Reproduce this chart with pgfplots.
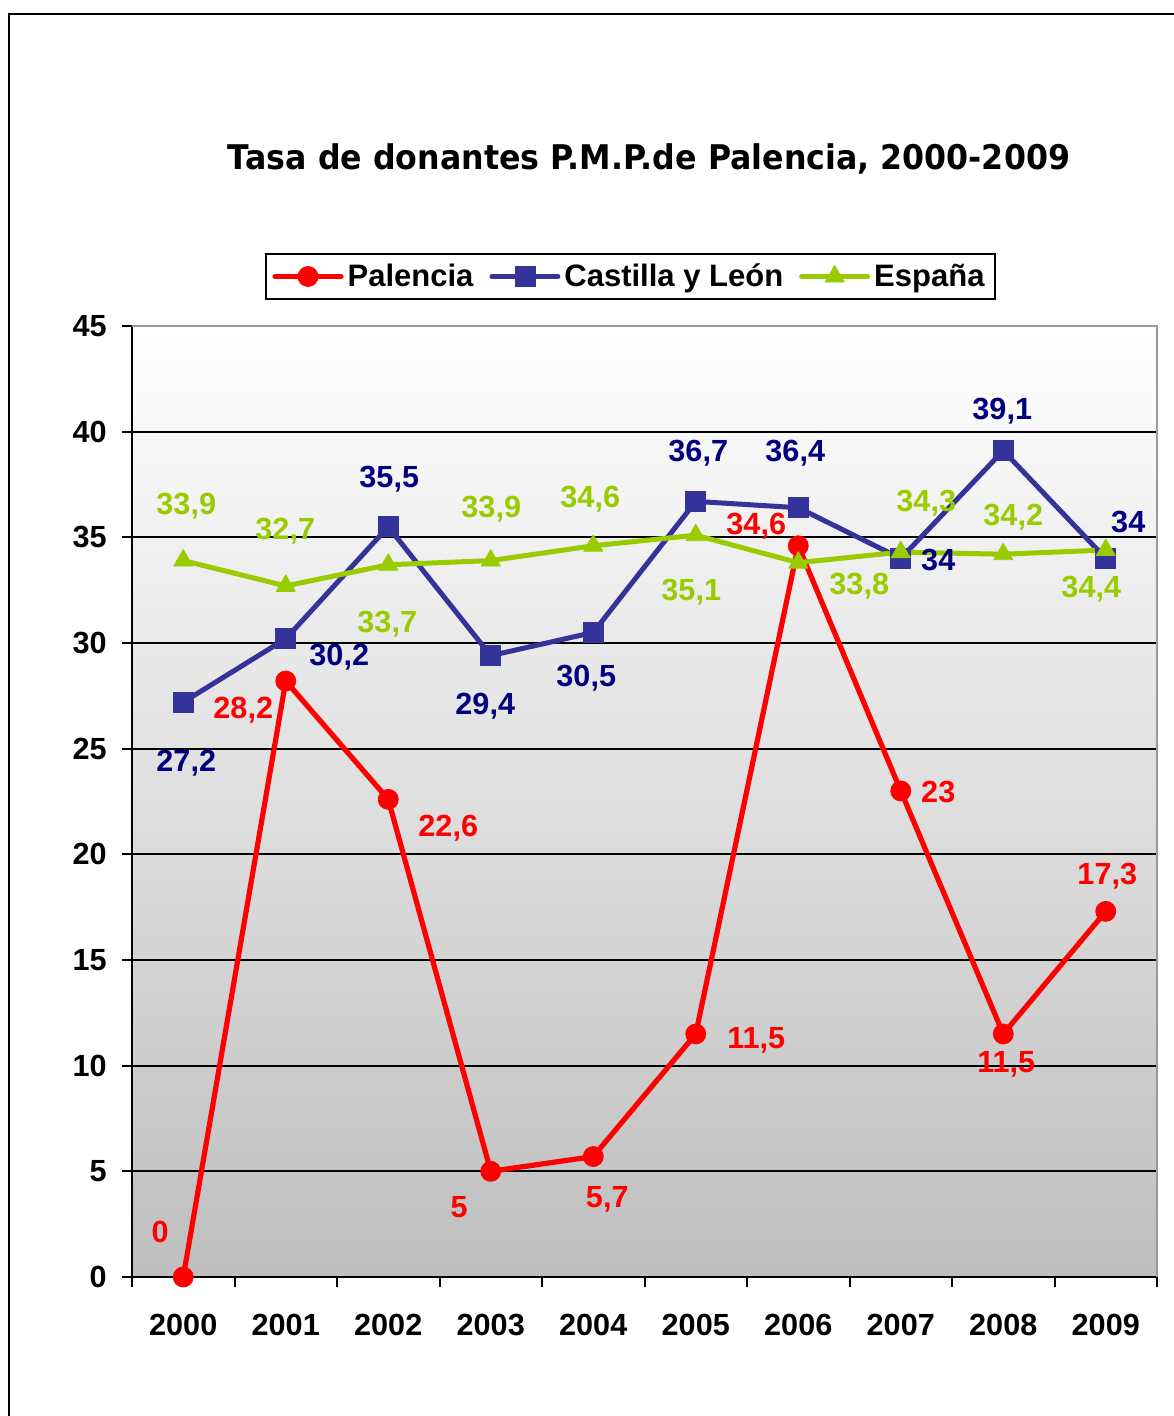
\documentclass[border=0pt]{standalone}
\usepackage{pgfplots}
\pgfplotsset{compat=1.18}
\usepackage{pgfplotstable}
\usepackage{graphicx}
\usepackage{fontspec}
\setmainfont{Liberation Sans}
\newfontfamily\titlefont{DejaVu Sans}

\definecolor{cpal}{HTML}{FF0000}
\definecolor{ccyl}{HTML}{333399}
\definecolor{ccyllbl}{HTML}{000080}
\definecolor{cesp}{HTML}{99CC00}
\definecolor{bgbot}{HTML}{BEBEBE}
\definecolor{bordergray}{HTML}{9A9A9A}

% x y label dx(pt) dy(pt)
\pgfplotstableread{
x y lbl dx dy
0 0 0 -11.5 22.5
1 28.2 28,2 -21.25 -14.5
2 22.6 22,6 30 -14.3
3 5 5 -15.75 -17.85
4 5.7 5,7 7 -21.25
5 11.5 11,5 30.25 -3
6 34.6 34,6 -21 9.9
7 23 23 18.75 -0.5
8 11.5 11,5 1.5 -15
9 17.3 17,3 0.75 17.7
}\datapal

\pgfplotstableread{
x y lbl dx dy
0 27.2 27,2 1.5 -30.4
1 30.2 30,2 26.75 -9.1
2 35.5 35,5 0.5 23.9
3 29.4 29,4 -2.75 -25.15
4 30.5 30,5 -3.5 -22.8
5 36.7 36,7 1.25 24.2
6 36.4 36,4 -1.5 27.4
7 34 34 18.75 -0.75
8 39.1 39,1 -0.5 19.85
9 34 34 11.25 18.25
}\datacyl

\pgfplotstableread{
x y lbl dx dy
0 33.9 33,9 1.5 27.3
1 32.7 32,7 -0.25 27.5
2 33.7 33,7 -0.5 -29.6
3 33.9 33,9 0.25 25.8
4 34.6 34,6 -1.5 23.4
5 35.1 35,1 -2.25 -28.4
6 33.8 33,8 30.5 -11.65
7 34.3 34,3 12.75 24.55
8 34.2 34,2 5 18.65
9 34.4 34,4 -7.25 -19.5
}\dataesp

\newcommand{\lblfont}{\bfseries\fontsize{15.3}{18}\selectfont}

\pgfplotsset{
  lblstyle/.style={
    point meta=explicit symbolic,
    nodes near coords,
    visualization depends on={\thisrow{dx} \as \lblx},
    visualization depends on={\thisrow{dy} \as \lbly},
    every node near coord/.append style={anchor=center, inner sep=0pt,
      xshift=\lblx pt, yshift=\lbly pt, font=\lblfont},
  },
}

\begin{document}
\begin{tikzpicture}
\draw[black, line width=1pt] (4.5pt,-20pt) -- (4.5pt,701pt) -- (620pt,701pt);
\node[anchor=base, inner sep=0pt] at (324.5pt,623pt)
  {\resizebox{421pt}{\height}{\titlefont\bfseries\fontsize{17}{20}\selectfont Tasa de donantes P.M.P.de Palencia, 2000-2009}};
\begin{axis}[
  at={(66pt,69.5pt)}, anchor=south west,
  scale only axis, width=512.5pt, height=475.5pt,
  clip=false,
  xmin=-0.5, xmax=9.5, ymin=0, ymax=45,
  xtick={0,1,2,3,4,5,6,7,8,9},
  xticklabels={2000,2001,2002,2003,2004,2005,2006,2007,2008,2009},
  minor xtick={-0.5,0.5,1.5,2.5,3.5,4.5,5.5,6.5,7.5,8.5,9.5},
  ytick={0,5,10,15,20,25,30,35,40,45},
  axis x line*=bottom, axis y line*=left,
  axis line style={-, black, line width=1pt},
  tick align=outside,
  major tick length=5pt, minor tick length=5pt,
  tick style={black, line width=1pt},
  major x tick style={draw=none},
  ymajorgrids,
  major grid style={black, line width=0.9pt},
  /pgf/number format/assume math mode=true,
  tick label style={font=\bfseries\fontsize{15.3}{18}\selectfont, text=black},
  yticklabel style={anchor=east, inner sep=0pt, xshift=-7.5pt},
  xticklabel style={anchor=center, inner sep=0pt, yshift=-19pt},
  axis background/.style={shade, top color=white, bottom color=bgbot},
  legend style={at={(0.4863,1.052)}, anchor=center, draw=black, line width=1pt,
    fill=white, font=\bfseries\fontsize{15.5}{18}\selectfont,
    /tikz/every even column/.append style={column sep=6pt},
    inner xsep=3pt, inner ysep=3pt},
  legend columns=3,
  legend cell align=left,
  legend image code/.code={\draw[mark repeat=2,mark phase=2] plot coordinates {(0pt,0pt)(16.5pt,0pt)(33pt,0pt)};},
]
\addplot[color=cpal, line width=2.6pt, line cap=round, line join=round,
  mark=*, mark size=5pt, mark options={solid, line width=0.4pt, fill=cpal},
  lblstyle, every node near coord/.append style={text=cpal}]
  table[x=x, y=y, meta=lbl] {\datapal};
\addlegendentry{Palencia}
\addplot[color=ccyl, line width=2.5pt, line cap=round, line join=round,
  mark=square*, mark size=5pt, mark options={solid, line width=0.4pt, fill=ccyl},
  lblstyle, every node near coord/.append style={text=ccyllbl}]
  table[x=x, y=y, meta=lbl] {\datacyl};
\addlegendentry{Castilla y León}
\addplot[color=cesp, line width=2.5pt, line cap=round, line join=round,
  mark=triangle*, mark size=5.5pt, mark options={solid, line width=0.4pt, fill=cesp},
  lblstyle, every node near coord/.append style={text=cesp}]
  table[x=x, y=y, meta=lbl] {\dataesp};
\addlegendentry{España}
\draw[bordergray, line width=1pt] (rel axis cs:0,1) -- (rel axis cs:1,1) -- (rel axis cs:1,0);
\end{axis}
\pgfresetboundingbox
\path (0,0) rectangle (586.5pt,708pt);
\end{tikzpicture}
\end{document}
